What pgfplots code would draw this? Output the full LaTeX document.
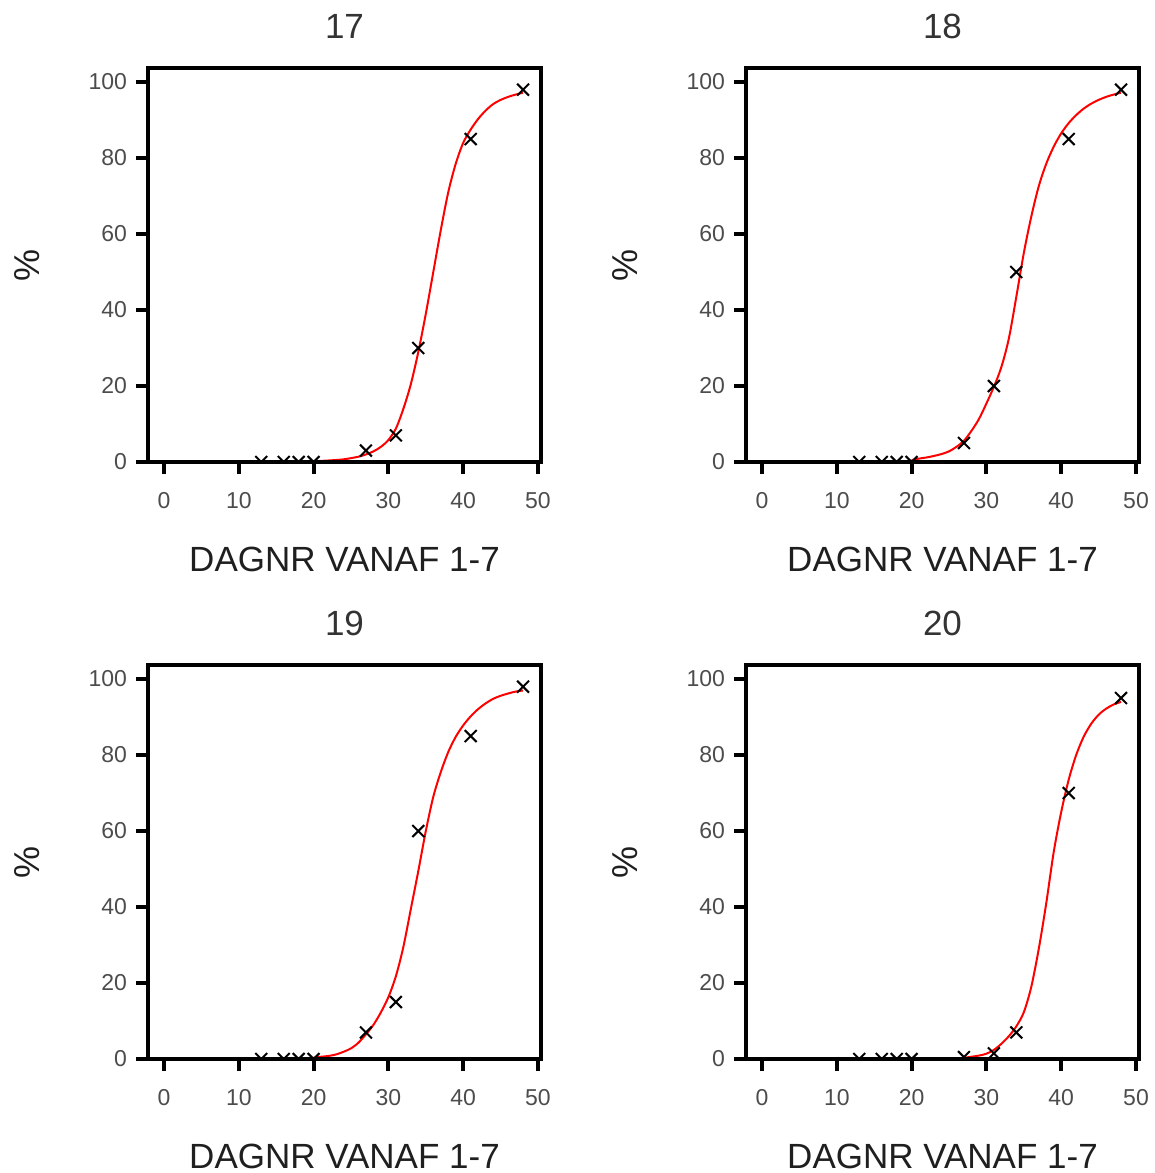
\documentclass[border=0pt]{standalone}
\usepackage{fontspec}
\setmainfont{Liberation Sans}
\usepackage{pgfplots}
\pgfplotsset{compat=1.18}

\definecolor{ticktext}{rgb}{0.3,0.3,0.3}
\definecolor{titletext}{rgb}{0.2,0.2,0.2}
\definecolor{labeltext}{rgb}{0.12,0.12,0.12}

% common look of the four panels (1 px of the reference = 0.5pt)
\pgfplotsset{
  panel/.style={
    scale only axis,
    width=196.5pt, height=197pt,
    xmin=-2.14, xmax=50.4,
    ymin=0, ymax=103.7,
    xtick={0,10,...,50},
    ytick={0,20,...,100},
    tick align=outside,
    xtick pos=left, ytick pos=left,
    major tick length=6pt,
    every tick/.style={line width=2pt, black},
    axis line style={line width=2pt, black},
    axis on top,
    clip marker paths=true,
    /pgf/number format/assume math mode=true,
    ticklabel style={font=\fontsize{11.5}{13}\selectfont, text=ticktext},
    xticklabel style={yshift=-5.5pt},
    yticklabel style={xshift=-1pt},
    title style={font=\fontsize{17.5}{20}\selectfont, text=titletext,
      at={(axis description cs:0.5,1)}, anchor=base, yshift=8.75pt},
    xlabel={DAGNR VANAF 1-7},
    xlabel style={font=\fontsize{17.5}{20}\selectfont, text=labeltext,
      at={(axis description cs:0.5,0)}, anchor=base, yshift=-54.5pt},
    ylabel={\%},
    ylabel style={font=\fontsize{18}{20}\selectfont, text=labeltext,
      at={(axis description cs:0,0.5)}, anchor=center, yshift=60.5pt},
  },
  obs/.style={only marks, mark=x, mark size=4.2pt, black,
    mark options={line width=1pt}},
  fit/.style={red, line width=1pt, smooth, no markers},
}

\begin{document}
\begin{tikzpicture}
  \path[use as bounding box] (0,0) rectangle (577.5pt,-586.5pt);

  % 17
  \begin{axis}[panel, title={17}, at={(74pt,-231pt)}, anchor=south west]
    \addplot[fit] coordinates {
      (20,0.2) (22,0.4) (24,0.7) (26,1.4) (27,2.0) (28,2.8) (29,4.0)
      (30,5.8) (31,8.8) (32,14) (33,20.5) (34,29) (35,39) (36,50)
      (37,61) (38,71) (39,78.5) (40,84) (41,87.5) (42,90.3) (43,92.5)
      (44,94.2) (45,95.3) (46,96.1) (47,96.7) (48,97.2)
    };
    \addplot[obs] coordinates {
      (13,0) (16,0) (18,0) (20,0) (27,3) (31,7) (34,30) (41,85) (48,98)
    };
  \end{axis}

  % 18
  \begin{axis}[panel, title={18}, at={(373pt,-231pt)}, anchor=south west]
    \addplot[fit] coordinates {
      (20,0.5) (21,0.9) (22,1.2) (23,1.6) (24,2.1) (25,2.8) (26,4.0)
      (27,5.6) (28,8.2) (29,11.3) (30,15.4) (31,19.8) (32,25) (33,32.5)
      (34,43.5) (35,55) (36,64.6) (37,72.6) (38,78.5) (39,83) (40,86.5)
      (41,89.2) (42,91.3) (43,93) (44,94.3) (45,95.3) (46,96.1)
      (47,96.7) (48,97.2)
    };
    \addplot[obs] coordinates {
      (13,0) (16,0) (18,0) (20,0) (27,5) (31,20) (34,50) (41,85) (48,98)
    };
  \end{axis}

  % 19
  \begin{axis}[panel, title={19}, at={(74pt,-529.5pt)}, anchor=south west]
    \addplot[fit] coordinates {
      (20,0.35) (21,0.6) (22,0.8) (23,1.2) (24,1.9) (25,2.8) (26,4.3)
      (27,6.5) (28,9) (29,12.3) (30,16.3) (31,21.8) (32,29.5) (33,39.5)
      (34,49.5) (35,60) (36,69) (37,75.5) (38,80.8) (39,84.8) (40,87.8)
      (41,90.2) (42,92.1) (43,93.6) (44,94.8) (45,95.6) (46,96.2)
      (47,96.7) (48,97)
    };
    \addplot[obs] coordinates {
      (13,0) (16,0) (18,0) (20,0) (27,7) (31,15) (34,60) (41,85) (48,98)
    };
  \end{axis}

  % 20
  \begin{axis}[panel, title={20}, at={(373pt,-529.5pt)}, anchor=south west]
    \addplot[fit] coordinates {
      (27,0.3) (28,0.6) (29,0.9) (30,1.4) (31,2.4) (32,4) (33,6)
      (34,8.6) (35,12.3) (36,19) (37,29) (38,41) (39,54.5) (40,65)
      (41,73.5) (42,80) (43,84.8) (44,88.2) (45,90.6) (46,92.2) (47,93.3)
      (48,94)
    };
    \addplot[obs] coordinates {
      (13,0) (16,0) (18,0) (20,0) (27,0.5) (31,1.5) (34,7) (41,70) (48,95)
    };
  \end{axis}
\end{tikzpicture}
\end{document}
